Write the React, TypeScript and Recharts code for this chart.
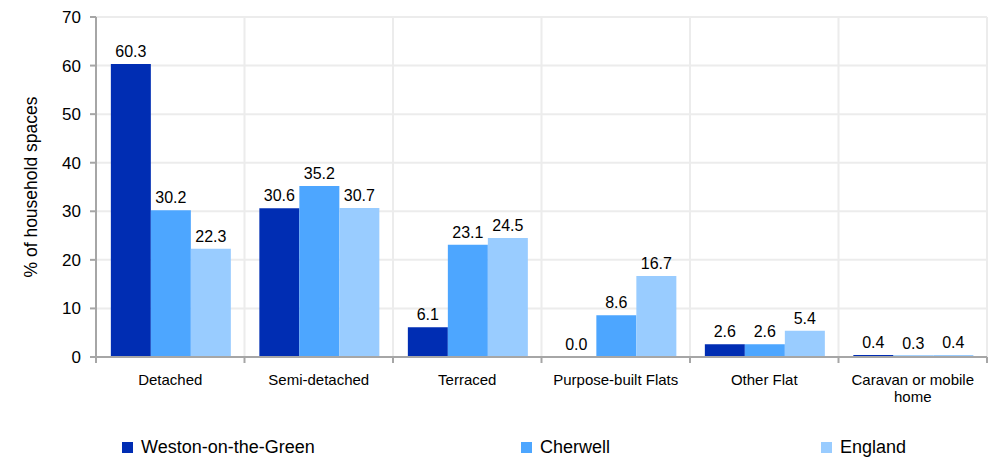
import React from "react";
import {
  BarChart,
  Bar,
  XAxis,
  YAxis,
  CartesianGrid,
  LabelList,
  Legend,
  Label,
  Text,
} from "recharts";

const categories = [
  "Detached",
  "Semi-detached",
  "Terraced",
  "Purpose-built Flats",
  "Other Flat",
  "Caravan or mobile home",
];
const westonValues = [60.3, 30.6, 6.1, 0.0, 2.6, 0.4];
const cherwellValues = [30.2, 35.2, 23.1, 8.6, 2.6, 0.3];
const englandValues = [22.3, 30.7, 24.5, 16.7, 5.4, 0.4];
const yTicks = [0, 10, 20, 30, 40, 50, 60, 70];

const seriesNames = ["Weston-on-the-Green", "Cherwell", "England"];
const seriesKeys = ["weston", "cherwell", "england"];
const seriesColors = ["#002DB3", "#4DA6FF", "#99CCFF"];

const data = categories.map((name, i) => ({
  name,
  weston: westonValues[i],
  cherwell: cherwellValues[i],
  england: englandValues[i],
}));

const W = 992;
const H = 458;
const MARGIN = { top: 17, right: 5, left: 0, bottom: 0 };
const Y_AXIS_W = 96;
const PLOT_W = W - MARGIN.left - MARGIN.right - Y_AXIS_W;
const FONT = "'Liberation Sans', Arial, sans-serif";
const AXIS_COLOR = "#a6a6a6";
const GRID_COLOR = "#ececec";

const XTick = (props: any) => {
  const { x, y, payload, index } = props;
  const band = PLOT_W / categories.length;
  const left = x - band / 2;
  const right = x + band / 2;
  return (
    <g>
      <line x1={left} x2={left} y1={y} y2={y + 6} stroke={AXIS_COLOR} strokeWidth={2} />
      {index === categories.length - 1 && (
        <line x1={right} x2={right} y1={y} y2={y + 6} stroke={AXIS_COLOR} strokeWidth={2} />
      )}
      <Text
        x={x}
        y={y + 17}
        width={140}
        textAnchor="middle"
        verticalAnchor="start"
        lineHeight={17}
        fontSize={15}
        fontFamily={FONT}
        fill="#000"
      >
        {payload.value}
      </Text>
    </g>
  );
};

const YLabel = (props: any) => {
  const vb = props.viewBox || {};
  const cx = (vb.x || 0) + 31;
  const cy = (vb.y || 0) + (vb.height || 0) / 2;
  return (
    <text
      x={cx}
      y={cy}
      transform={`rotate(-90, ${cx}, ${cy})`}
      textAnchor="middle"
      dominantBaseline="central"
      fontSize={17.5}
      fontFamily={FONT}
      fill="#000"
    >
      % of household spaces
    </text>
  );
};

const legendLefts = [122, 521, 821];

const LegendContent = () => (
  <div style={{ position: "relative", width: W, height: 43, fontFamily: FONT }}>
    {seriesNames.map((n, i) => (
      <div
        key={n}
        style={{
          position: "absolute",
          left: legendLefts[i],
          top: 22,
          height: 21,
          display: "flex",
          alignItems: "center",
          whiteSpace: "nowrap",
        }}
      >
        <span
          style={{
            display: "inline-block",
            width: 11,
            height: 11,
            background: seriesColors[i],
            marginRight: 8,
          }}
        />
        <span style={{ fontSize: 18, color: "#000" }}>{n}</span>
      </div>
    ))}
  </div>
);

export default function App() {
  return (
    <div style={{ position: "absolute", left: 0, top: 0, width: W, height: H, background: "#fff" }}>
      <BarChart
        width={W}
        height={H}
        data={data}
        margin={MARGIN}
        barCategoryGap="10%"
        barGap={0}
      >
        <CartesianGrid
          stroke={GRID_COLOR}
          strokeWidth={2}
          verticalCoordinatesGenerator={({ offset }: any) =>
            categories
              .map((_, i) => offset.left + (offset.width * i) / categories.length)
              .concat([offset.left + offset.width])
          }
        />
        <XAxis
          dataKey="name"
          height={58}
          tickLine={false}
          tickSize={0}
          tickMargin={0}
          interval={0}
          stroke={AXIS_COLOR}
          strokeWidth={2}
          tick={<XTick />}
        />
        <YAxis
          width={Y_AXIS_W}
          domain={[0, 70]}
          ticks={yTicks}
          interval={0}
          tickSize={6}
          tickMargin={9}
          stroke={AXIS_COLOR}
          strokeWidth={2}
          tick={{ fontSize: 17, fill: "#000", fontFamily: FONT }}
        >
          <Label content={<YLabel />} />
        </YAxis>
        <Legend verticalAlign="bottom" height={43} content={<LegendContent />} wrapperStyle={{ left: 0 }} />
        {seriesKeys.map((k, i) => (
          <Bar
            key={k}
            dataKey={k}
            name={seriesNames[i]}
            fill={seriesColors[i]}
            minPointSize={0.01}
            isAnimationActive={false}
          >
            <LabelList
              dataKey={k}
              position="top"
              offset={7}
              formatter={(v: any) => Number(v).toFixed(1)}
              style={{ fontSize: 16, fill: "#000", fontFamily: FONT }}
            />
          </Bar>
        ))}
      </BarChart>
    </div>
  );
}
